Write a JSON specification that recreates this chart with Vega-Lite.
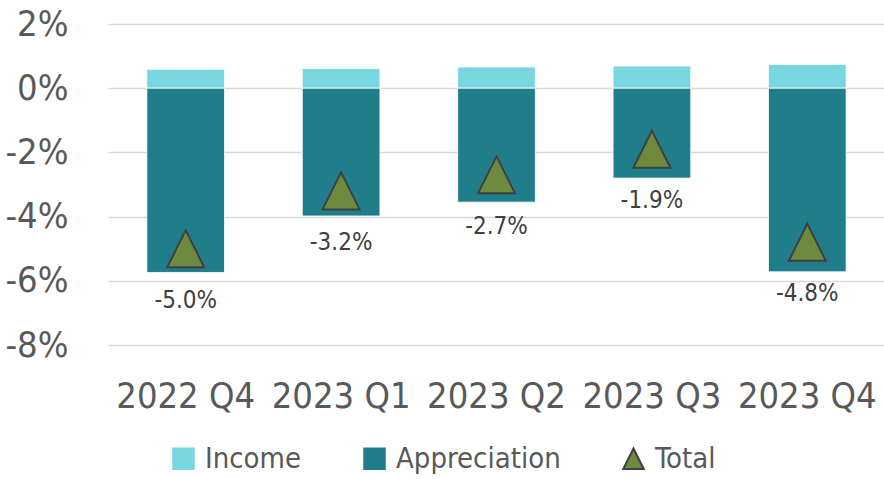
{
  "$schema": "https://vega.github.io/schema/vega-lite/v6.json",
  "width": 777,
  "height": 321,
  "autosize": {"type": "none"},
  "padding": {"left": 108, "top": 24, "right": 0, "bottom": 134},
  "background": "white",
  "datasets": {
    "bars": [
      {"quarter": "2022 Q4", "series": "Income", "value": 0.59},
      {"quarter": "2022 Q4", "series": "Appreciation", "value": -5.74},
      {"quarter": "2023 Q1", "series": "Income", "value": 0.61},
      {"quarter": "2023 Q1", "series": "Appreciation", "value": -3.98},
      {"quarter": "2023 Q2", "series": "Income", "value": 0.66},
      {"quarter": "2023 Q2", "series": "Appreciation", "value": -3.55},
      {"quarter": "2023 Q3", "series": "Income", "value": 0.69},
      {"quarter": "2023 Q3", "series": "Appreciation", "value": -2.8},
      {"quarter": "2023 Q4", "series": "Income", "value": 0.74},
      {"quarter": "2023 Q4", "series": "Appreciation", "value": -5.72}
    ],
    "total": [
      {"quarter": "2022 Q4", "series": "Total", "value": -5.0, "label": "-5.0%"},
      {"quarter": "2023 Q1", "series": "Total", "value": -3.2, "label": "-3.2%"},
      {"quarter": "2023 Q2", "series": "Total", "value": -2.7, "label": "-2.7%"},
      {"quarter": "2023 Q3", "series": "Total", "value": -1.9, "label": "-1.9%"},
      {"quarter": "2023 Q4", "series": "Total", "value": -4.8, "label": "-4.8%"}
    ]
  },
  "config": {
    "font": "DejaVu Sans Condensed, sans-serif",
    "view": {"stroke": null},
    "axis": {
      "labelFont": "DejaVu Sans Condensed, sans-serif",
      "labelColor": "#595959",
      "ticks": false,
      "domain": false,
      "title": null
    },
    "legend": {
      "labelFont": "DejaVu Sans Condensed, sans-serif"
    }
  },
  "encoding": {
    "x": {
      "field": "quarter",
      "type": "nominal",
      "sort": null,
      "scale": {"paddingInner": 0.5, "paddingOuter": 0.25},
      "axis": {"labelAngle": 0, "labelFontSize": 36, "labelPadding": 34, "grid": false}
    }
  },
  "layer": [
    {
      "data": {"name": "bars"},
      "mark": {"type": "bar", "stroke": "white", "strokeWidth": 0.8},
      "encoding": {
        "y": {
          "field": "value",
          "type": "quantitative",
          "stack": "zero",
          "scale": {"domain": [-8, 2], "nice": false},
          "axis": {
            "values": [-8, -6, -4, -2, 0, 2],
            "labelExpr": "datum.value + '%'",
            "labelFontSize": 36,
            "labelPadding": 40,
            "grid": true,
            "gridColor": "#D9D9D9",
            "gridWidth": 1.5
          }
        },
        "color": {
          "field": "series",
          "type": "nominal",
          "scale": {"domain": ["Income", "Appreciation", "Total"], "range": ["#78D6DE", "#207E8A", "#6E8A3E"]},
          "legend": {
            "title": null,
            "orient": "none",
            "direction": "horizontal",
            "legendX": 61,
            "legendY": 420,
            "labelFontSize": 29,
            "labelColor": "#595959",
            "labelLimit": 400,
            "symbolSize": 420,
            "symbolStrokeWidth": 2,
            "columnPadding": 58,
            "labelOffset": 7,
            "padding": 0
          }
        }
      }
    },
    {
      "data": {"name": "total"},
      "mark": {"type": "point", "filled": true, "opacity": 1, "strokeWidth": 2, "size": 1369},
      "encoding": {
        "y": {"field": "value", "type": "quantitative"},
        "color": {"field": "series", "type": "nominal"},
        "shape": {
          "field": "series",
          "type": "nominal",
          "scale": {"domain": ["Income", "Appreciation", "Total"], "range": ["square", "square", "M0,-1L-1,1L1,1Z"]}
        },
        "stroke": {
          "field": "series",
          "type": "nominal",
          "scale": {"domain": ["Income", "Appreciation", "Total"], "range": ["#78D6DE", "#207E8A", "#404040"]}
        }
      }
    },
    {
      "data": {"name": "total"},
      "mark": {"type": "text", "dy": 52, "fontSize": 24, "font": "DejaVu Sans Condensed, sans-serif", "color": "#404040", "baseline": "middle"},
      "encoding": {
        "y": {"field": "value", "type": "quantitative"},
        "text": {"field": "label", "type": "nominal"}
      }
    }
  ]
}
